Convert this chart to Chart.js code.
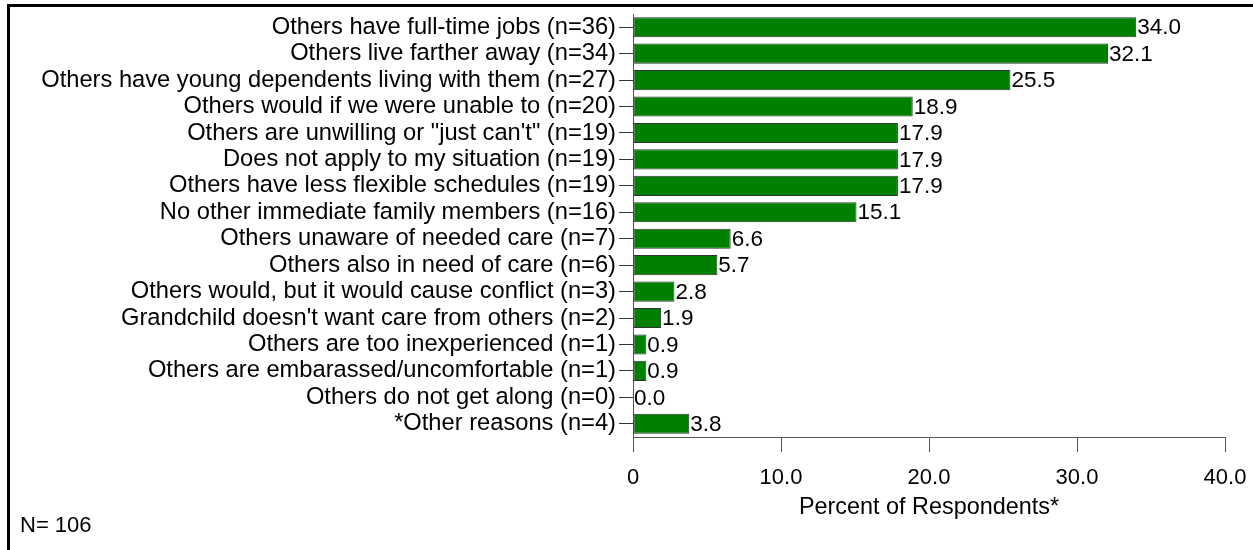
<!DOCTYPE html>
<html>
<head>
<meta charset="utf-8">
<script src="https://cdn.jsdelivr.net/npm/chart.js@4.4.0/dist/chart.umd.min.js"></script>
<style>
  html, body { margin: 0; padding: 0; background: #fff; }
  #wrap { position: relative; width: 1253px; height: 550px; overflow: hidden; }
  #frame { position: absolute; left: 7px; top: 4px; width: 1260px; height: 560px;
           border-top: 3px solid #000; border-left: 3px solid #000; }
  #chart { position: absolute; left: 0; top: 0; }
  #note { position: absolute; left: 20px; top: 512px; font: 22px "Liberation Sans", Arial, sans-serif; color: #000; }
</style>
</head>
<body>
<div id="wrap">
  <div id="frame"></div>
  <canvas id="chart" width="1253" height="550"></canvas>
  <div id="note">N= 106</div>
</div>
<script>
// Reasons others in the family do not provide care
const categories = [
    'Others have full-time jobs (n=36)',
    'Others live farther away (n=34)',
    'Others have young dependents living with them (n=27)',
    'Others would if we were unable to (n=20)',
    'Others are unwilling or "just can\'t" (n=19)',
    'Does not apply to my situation (n=19)',
    'Others have less flexible schedules (n=19)',
    'No other immediate family members (n=16)',
    'Others unaware of needed care (n=7)',
    'Others also in need of care (n=6)',
    'Others would, but it would cause conflict (n=3)',
    'Grandchild doesn\'t want care from others (n=2)',
    'Others are too inexperienced (n=1)',
    'Others are embarassed/uncomfortable (n=1)',
    'Others do not get along (n=0)',
    '*Other reasons (n=4)'
];
const percents = [34.0, 32.1, 25.5, 18.9, 17.9, 17.9, 17.9, 15.1, 6.6, 5.7, 2.8, 1.9, 0.9, 0.9, 0.0, 3.8];
const xTicks = [0, 10, 20, 30, 40];

const family = '"Liberation Sans", Arial, sans-serif';
const labelFont = { family: family, size: 23.7 };

// value labels at the end of each bar
const barLabels = {
    id: 'barLabels',
    afterDatasetsDraw(chart) {
        const ctx = chart.ctx;
        const meta = chart.getDatasetMeta(0);
        ctx.save();
        ctx.font = '22.5px ' + family;
        ctx.fillStyle = '#000';
        ctx.textAlign = 'left';
        ctx.textBaseline = 'middle';
        meta.data.forEach((bar, i) => {
            ctx.fillText(percents[i].toFixed(1), bar.x + 1, bar.y + 1);
        });
        ctx.restore();
    }
};

new Chart(document.getElementById('chart').getContext('2d'), {
    type: 'bar',
    data: {
        labels: categories,
        datasets: [{
            data: percents,
            backgroundColor: '#008000',
            borderColor: '#333',
            borderWidth: 1,
            borderSkipped: false,
            categoryPercentage: 1,
            barPercentage: 0.76
        }]
    },
    options: {
        indexAxis: 'y',
        responsive: false,
        animation: false,
        layout: { padding: { left: 0, top: 14, right: 28, bottom: 28 } },
        plugins: { legend: { display: false }, tooltip: { enabled: false } },
        scales: {
            x: {
                min: 0,
                max: 40,
                afterBuildTicks: scale => { scale.ticks = xTicks.map(v => ({ value: v })); },
                afterFit: scale => { scale.height = 85; scale.paddingRight = 0; scale.paddingLeft = 0; },
                ticks: {
                    color: '#000',
                    font: { family: family, size: 22 },
                    padding: 13,
                    maxRotation: 0,
                    callback: v => v === 0 ? '0' : v.toFixed(1)
                },
                grid: { drawOnChartArea: false, drawTicks: true, tickLength: 15, color: '#555' },
                border: { display: true, color: '#555' },
                title: { display: true, text: 'Percent of Respondents*', color: '#000', font: { family: family, size: 23.4 }, padding: 0 }
            },
            y: {
                afterFit: scale => { scale.width = 633; scale.paddingTop = 0; scale.paddingBottom = 0; },
                ticks: { color: '#000', font: labelFont, padding: 3, autoSkip: false },
                grid: { offset: false, drawOnChartArea: false, drawTicks: true, tickLength: 14, color: '#333' },
                border: { display: true, color: '#555' }
            }
        }
    },
    plugins: [barLabels]
});
</script>
</body>
</html>
